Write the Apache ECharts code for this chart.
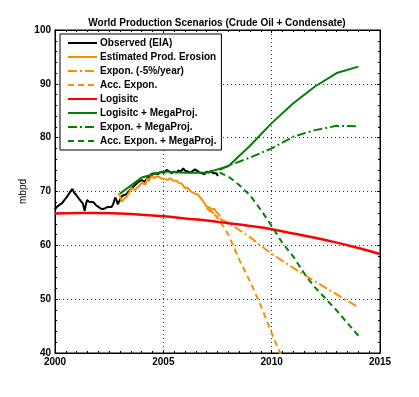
<!DOCTYPE html>
<html>
<head>
<meta charset="utf-8">
<script src="https://cdn.jsdelivr.net/npm/echarts@6/dist/echarts.min.js"></script>
<style>
html,body{margin:0;padding:0;background:#fff;}
#chart{width:419px;height:397px;}
</style>
</head>
<body>
<div id="chart"></div>
<script>
// [year, mbpd]
var observed = [
	[2000.0,66.7],[2000.1,67.2],[2000.2,67.5],[2000.32,67.8],[2000.45,68.5],[2000.55,69.0],
	[2000.65,69.6],[2000.72,69.9],[2000.8,70.5],[2000.88,69.8],[2000.97,69.4],[2001.05,69.7],
	[2001.12,68.6],[2001.2,68.9],[2001.28,67.8],[2001.37,66.4],[2001.42,67.5],[2001.48,68.4],
	[2001.58,68.1],[2001.67,68.3],[2001.78,68.0],[2001.88,67.5],[2001.97,67.3],[2002.05,67.0],
	[2002.17,66.7],[2002.25,67.0],[2002.32,66.9],[2002.42,67.1],[2002.5,67.0],[2002.6,67.1],
	[2002.68,67.6],[2002.78,68.9],[2002.85,68.3],[2002.9,67.6],[2002.97,68.2],[2003.1,69.2],
	[2003.3,69.5],[2003.5,70.5],[2003.7,71.2],[2003.85,71.8],[2004.0,72.1],[2004.15,71.8],
	[2004.25,72.5],[2004.38,72.8],[2004.46,73.3],[2004.54,73.1],[2004.65,73.4],[2004.75,73.2],
	[2004.85,73.6],[2004.92,73.7],[2005.05,73.5],[2005.15,74.0],[2005.25,73.8],[2005.38,73.4],
	[2005.5,73.7],[2005.6,73.5],[2005.7,73.9],[2005.8,73.7],[2005.92,74.3],[2006.0,73.9],
	[2006.08,74.0],[2006.15,73.7],[2006.25,73.5],[2006.35,73.8],[2006.46,74.1],[2006.55,73.9],
	[2006.65,73.6],[2006.77,73.4],[2006.88,73.2],[2007.0,73.7],[2007.1,73.5],[2007.2,73.8],
	[2007.3,73.4],[2007.38,73.1],[2007.45,73.4],[2007.52,72.9]
];
var erosion = [
	[2002.92,69.7],[2003.0,69.2],[2003.08,68.1],[2003.18,68.6],[2003.3,69.0],[2003.42,69.8],
	[2003.52,70.6],[2003.6,70.9],[2003.68,70.3],[2003.77,70.0],[2003.88,71.0],[2004.0,71.6],
	[2004.08,71.5],[2004.18,71.3],[2004.25,72.4],[2004.33,71.9],[2004.42,72.6],[2004.48,73.1],
	[2004.56,72.4],[2004.65,72.8],[2004.72,73.1],[2004.8,72.7],[2004.92,72.4],[2005.0,72.6],
	[2005.1,72.3],[2005.22,72.1],[2005.3,72.5],[2005.38,72.2],[2005.46,72.0],[2005.54,71.8],
	[2005.62,72.0],[2005.7,71.6],[2005.78,71.7],[2005.85,71.5],[2005.93,71.0],[2006.0,70.6],
	[2006.1,70.8],[2006.18,70.3],[2006.3,69.95],[2006.38,70.1],[2006.47,69.6],[2006.6,69.4],
	[2006.68,69.0],[2006.77,68.6],[2006.85,68.1],[2006.93,67.8],[2007.0,67.2],[2007.08,67.5],
	[2007.15,67.0],[2007.25,66.6],[2007.35,66.8],[2007.45,66.2],[2007.55,65.8],[2007.62,65.3]
];
var exponDecline = [
	[2007.0,66.9],[2007.3,66.0],[2007.6,64.9],[2008,64.2],[2009,61.5],[2010,58.4],
	[2011,55.8],[2012,53.3],[2013,50.9],[2014,48.5]
];
var accExpon = [
	[2007.0,66.9],[2007.3,66.0],[2007.6,64.6],[2008.0,62.0],[2008.5,57.4],[2009.0,53.3],
	[2009.5,48.8],[2010.0,43.7],[2010.4,39.9],[2010.6,37.8]
];
var logistic = [
	[2000,65.9],[2001,66.0],[2002,66.0],[2003,65.9],[2004,65.7],[2005,65.4],[2006,65.0],
	[2007,64.6],[2008,64.1],[2009,63.6],[2010,63.0],[2011,62.2],[2012,61.4],[2013,60.5],
	[2014,59.5],[2015,58.4]
];
var logisticMega = [
	[2003,69.6],[2004,72.6],[2005,73.7],[2006,73.5],[2007,73.5],[2008,74.7],[2009,78.5],
	[2010,82.7],[2011,86.4],[2012,89.5],[2013,92.0],[2014,93.2]
];
var exponMega = [
	[2007.6,74.0],[2008,74.8],[2009,76.3],[2010,78.0],[2011,80.2],[2012,81.4],[2013,82.2],[2014,82.1]
];
var accExponMega = [
	[2007.6,73.5],[2008,72.8],[2008.5,71.2],[2009,69.3],[2009.5,66.6],[2010,63.6],
	[2010.5,60.4],[2011,57.9],[2011.6,54.2],[2012,52.2],[2013,47.9],[2014,43.2]
];
var seriesNames = [
	'Observed (EIA)','Estimated Prod. Erosion','Expon. (-5%/year)','Acc. Expon.',
	'Logisitc','Logisitc + MegaProj.','Expon. + MegaProj.','Acc. Expon. + MegaProj.'
];

var ORANGE = '#ff8c00', GREEN = '#008000', RED = '#ff0000';
var dashDot = [9,3,2,3];
var dashed = [6,4];

function line(name, data, color, type, width, smooth) {
	return {
		name: name,
		type: 'line',
		data: data,
		symbol: 'none',
		smooth: smooth || false,
		itemStyle: {color: color},
		lineStyle: {color: color, width: width || 2, type: type || 'solid'}
	};
}

var chart = echarts.init(document.getElementById('chart'));
var font = 'Arial, "Liberation Sans", Helvetica, sans-serif';
var xBase = {
	type: 'value', min: 2000, max: 2015, interval: 5,
	axisLine: {lineStyle: {color: '#000', width: 1}},
	axisTick: {inside: true, length: 3, lineStyle: {color: '#000'}},
	minorTick: {show: true, splitNumber: 10, length: 2, lineStyle: {color: '#000'}},
	splitLine: {show: false}
};
var yBase = {
	type: 'value', min: 40, max: 100, interval: 10,
	axisLine: {show: true, lineStyle: {color: '#000', width: 1}},
	axisTick: {show: true, inside: true, length: 3, lineStyle: {color: '#000'}},
	minorTick: {show: true, splitNumber: 5, length: 2, lineStyle: {color: '#000'}},
	splitLine: {show: false}
};
var option = {
	animation: false,
	backgroundColor: '#fff',
	title: {
		text: 'World Production Scenarios (Crude Oil + Condensate)',
		left: 212, top: 13, textAlign: 'center',
		textStyle: {fontFamily: font, fontSize: 10, fontWeight: 'bold', color: '#000'}
	},
	grid: {left: 55, right: 39, top: 30, bottom: 44, show: true, borderColor: '#000', borderWidth: 1},
	legend: {
		orient: 'vertical', left: 60, top: 34,
		data: seriesNames,
		backgroundColor: '#fff', borderColor: '#000', borderWidth: 1,
		padding: [2, 5, 2, 7],
		itemWidth: 29, itemHeight: 10, itemGap: 0,
		itemStyle: {opacity: 0},
		textStyle: {fontFamily: font, fontSize: 10, fontWeight: 'bold', color: '#000', lineHeight: 14, padding: [0, 0, 0, -2]}
	},
	xAxis: [
		echarts.util.merge({
			position: 'bottom',
			axisLabel: {margin: 4, color: '#000', fontFamily: font, fontSize: 10, fontWeight: 'bold',
				formatter: function(v) { return String(v); }},
			splitLine: {show: true, lineStyle: {color: '#333', type: [1, 3], width: 1}}
		}, xBase, false),
		echarts.util.merge({position: 'top', axisLabel: {show: false}}, xBase, false)
	],
	yAxis: [
		echarts.util.merge({
			position: 'left',
			name: 'mbpd', nameLocation: 'middle', nameGap: 27, nameMoveOverlap: false,
			nameTextStyle: {color: '#000', fontFamily: font, fontSize: 10},
			axisLabel: {margin: 4, color: '#000', fontFamily: font, fontSize: 10, fontWeight: 'bold'},
			splitLine: {show: true, lineStyle: {color: '#333', type: [1, 3], width: 1}}
		}, yBase, false),
		echarts.util.merge({position: 'right', axisLabel: {show: false}}, yBase, false)
	],
	series: [
		line(seriesNames[0], observed, '#000'),
		line(seriesNames[1], erosion, ORANGE),
		line(seriesNames[2], exponDecline, ORANGE, dashDot),
		line(seriesNames[3], accExpon, ORANGE, dashed),
		line(seriesNames[4], logistic, RED, 'solid', 2.5, true),
		line(seriesNames[5], logisticMega, GREEN),
		line(seriesNames[6], exponMega, GREEN, dashDot),
		line(seriesNames[7], accExponMega, GREEN, dashed)
	]
};
chart.setOption(option);
</script>
</body>
</html>
